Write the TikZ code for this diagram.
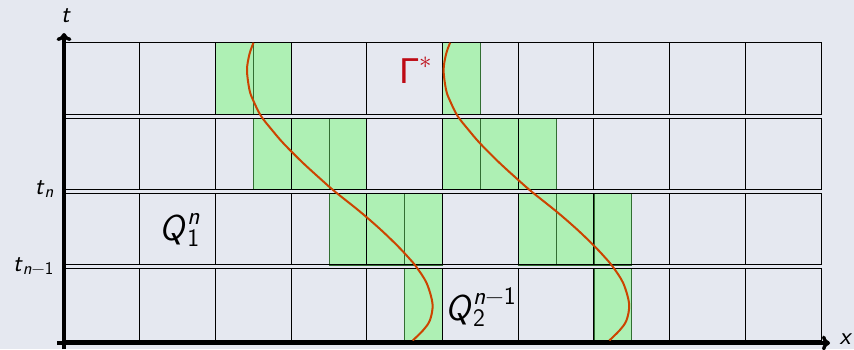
\documentclass[tikz,border=0pt]{standalone}
\usepackage{amsmath}
\usepackage{fontspec}
\newfontfamily\gfont{Liberation Sans}
\usetikzlibrary{arrows.meta}
\definecolor{bg}{RGB}{229,232,240}
\definecolor{cellgreen}{RGB}{174,240,180}
\definecolor{celledge}{RGB}{50,110,50}
\definecolor{curvec}{RGB}{204,68,0}
\definecolor{gammac}{RGB}{190,10,20}
\newcommand\sv[1]{\textsf{\textit{#1}}}
\newcommand\subsz[1]{\text{\fontsize{18}{20}\selectfont #1}}
\tikzset{
  greencell/.style={fill=cellgreen, draw=celledge, line width=0.8pt},
  gridline/.style={draw=black, line width=0.9pt},
  axisline/.style={line width=3.4pt, -{Computer Modern Rightarrow[length=8pt,width=15pt]}},
  front/.style={line width=2pt, draw=curvec},
  smalllab/.style={inner sep=0pt, font=\fontsize{25}{28}\selectfont},
  biglab/.style={inner sep=0pt, font=\fontsize{36}{40}\selectfont},
}
\begin{document}
\begin{tikzpicture}[x=1pt,y=-1pt]
\fill[bg] (0,0) rectangle (854,349);
\useasboundingbox (0,0) rectangle (854,349);
% green half cells
\foreach \r/\j in {0/4,0/5,0/10,1/5,1/6,1/7,1/10,1/11,1/12,2/7,2/8,2/9,2/12,2/13,2/14,3/9,3/14}
  \draw[greencell] ({64+\j*37.85},{42.7+\r*75.3}) rectangle ({64+(\j+1)*37.85},{42.7+\r*75.3+71.6});
% rows and grid
\foreach \r in {0,...,3}{
  \draw[gridline] (64,{42.7+\r*75.3}) rectangle (821,{42.7+\r*75.3+71.6});
  \foreach \c in {1,...,9}
    \draw[gridline] ({64+\c*75.7},{42.7+\r*75.3}) -- ({64+\c*75.7},{42.7+\r*75.3+71.6});
}
% fronts
\draw[front] plot[smooth, tension=0.55] coordinates {(253.5,42.7) (249.5,54) (247,70) (249.5,90) (253.5,101) (261,116) (272,130) (283.4,143.3) (302,162) (321.7,180) (335.1,191.7) (360.1,211.7) (380,229) (396.7,245) (408,257) (416.4,267) (426.7,283.3) (432.5,304) (430,320) (423.3,330) (412.7,340.5)};
\begin{scope}[xshift=196.6pt]
\draw[front] plot[smooth, tension=0.55] coordinates {(253.5,42.7) (249.5,54) (247,70) (249.5,90) (253.5,101) (261,116) (272,130) (283.4,143.3) (302,162) (321.7,180) (335.1,191.7) (360.1,211.7) (380,229) (396.7,245) (408,257) (416.4,267) (426.7,283.3) (432.5,304) (430,320) (423.3,330) (412.7,340.5)};
\end{scope}
% axes
\coordinate (ybot) at (64,349);
\coordinate (ytop) at (64,33);
\coordinate (xleft) at (57,343);
\coordinate (xright) at (830,343);
\draw[axisline] (ybot) -- (ytop);
\draw[axisline] (xleft) -- (xright);
% labels
\node[smalllab] (tlab) at (66,16) {\sv{t}};
\node[smalllab] (xlab) at (846,339) {\sv{x}};
\node[smalllab, anchor=east] (tn) at (54,189) {$\sv{t}_{\subsz{\sv{n}}}$};
\node[smalllab, anchor=east] (tn1) at (54,266) {$\sv{t}_{\subsz{\sv{n}\textsf{−1}}}$};
\node[biglab] (q1) at (180,230) {$\sv{Q}^{\sv{n}}_{\textsf{1}}$};
\node[biglab] (q2) at (481,307) {$\sv{Q}^{\sv{n}\textsf{−1}}_{\textsf{2}}$};
\node[biglab, text=gammac] (gam) at (415.7,70) {$\text{\gfont Γ}^{*}$};
\end{tikzpicture}
\end{document}
